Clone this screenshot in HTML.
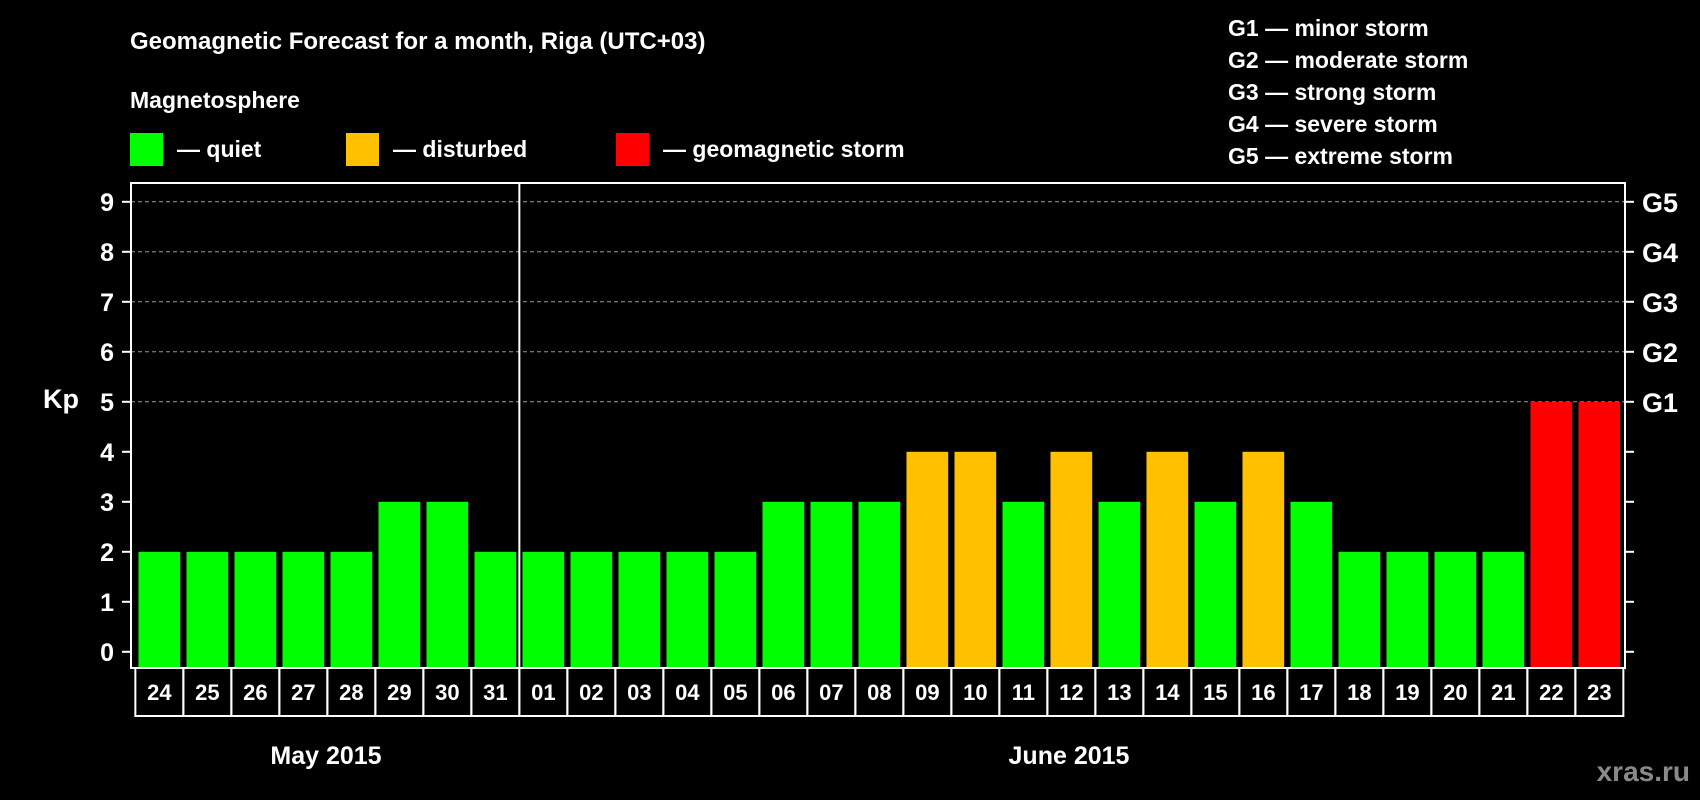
<!DOCTYPE html>
<html><head><meta charset="utf-8"><style>
html,body{margin:0;padding:0;background:#000;}
svg{display:block;font-family:"Liberation Sans",Arial,sans-serif;font-weight:bold;}
</style></head><body>
<svg id="chart" width="1700" height="800" viewBox="0 0 1700 800">
<rect x="0" y="0" width="1700" height="800" fill="#000"/>
<text x="130" y="49" fill="#fff" font-size="24">Geomagnetic Forecast for a month, Riga (UTC+03)</text>
<text x="130" y="108" fill="#fff" font-size="23">Magnetosphere</text>
<g>
<rect x="130" y="133" width="33" height="33" fill="#00ff00"/>
<text x="177" y="157" fill="#fff" font-size="23">— quiet</text></g>
<g>
<rect x="346" y="133" width="33" height="33" fill="#ffc000"/>
<text x="393" y="157" fill="#fff" font-size="23">— disturbed</text></g>
<g>
<rect x="616" y="133" width="33" height="33" fill="#ff0000"/>
<text x="663" y="157" fill="#fff" font-size="23">— geomagnetic storm</text></g>
<g fill="#fff" font-size="23">
<text x="1228" y="36">G1 — minor storm</text>
<text x="1228" y="68">G2 — moderate storm</text>
<text x="1228" y="100">G3 — strong storm</text>
<text x="1228" y="132">G4 — severe storm</text>
<text x="1228" y="164">G5 — extreme storm</text>
</g>
<text x="43" y="408" fill="#fff" font-size="27">Kp</text>
<g id="grid"></g><g id="bars"></g><g id="axes"></g>
<text x="326" y="764" fill="#fff" font-size="25" text-anchor="middle">May 2015</text>
<text x="1069" y="764" fill="#fff" font-size="25" text-anchor="middle">June 2015</text>
<text x="1690" y="781" fill="#8a8a8a" font-size="28" text-anchor="end">xras.ru</text>
</svg>
<script>
const days = ["24","25","26","27","28","29","30","31","01","02","03","04","05","06","07","08","09","10","11","12","13","14","15","16","17","18","19","20","21","22","23"];
const kpValues = [2,2,2,2,2,3,3,2,2,2,2,2,2,3,3,3,4,4,3,4,3,4,3,4,3,2,2,2,2,5,5];
const yTicks = [0,1,2,3,4,5,6,7,8,9];
const gLabels = ["G1","G2","G3","G4","G5"];
const NS="http://www.w3.org/2000/svg";
const plotL=131, plotR=1625, plotT=183, plotB=668;
const y0=651.8, unit=50;
const barX0=138.5, pitch=48, barW=41.7;
function yScale(v){return y0-v*unit;}
function xScale(i){return barX0+i*pitch;}
function mk(tag,attrs,parent){const e=document.createElementNS(NS,tag);for(const k in attrs)e.setAttribute(k,attrs[k]);parent.appendChild(e);return e;}
const grid=document.getElementById('grid'), bars=document.getElementById('bars'), axes=document.getElementById('axes');
yTicks.forEach(v=>{
  const y=yScale(v);
  if(v>=5){const g=mk('line',{x1:plotL,x2:plotR,y1:y,y2:y,stroke:'#999','stroke-width':1,'stroke-dasharray':'4,3'},grid);
  
  }
  const t=mk('line',{x1:plotL-9,x2:plotL,y1:y,y2:y,stroke:'#fff','stroke-width':2},axes);
  
  
  const rt=mk('line',{x1:plotR,x2:plotR+9,y1:y,y2:y,stroke:'#fff','stroke-width':2},axes);
  
  
  const l=mk('text',{x:114,y:y+9,fill:'#fff','font-size':25,'text-anchor':'end'},axes);
  l.textContent=v;
  
  
});
gLabels.forEach((g,i)=>{
  const t=mk('text',{x:1642,y:yScale(5+i)+10,fill:'#fff','font-size':27},axes);
  t.textContent=g;
  
  
});
kpValues.forEach((v,i)=>{
  const c=v>=5?'#ff0000':(v>=4?'#ffc000':'#00ff00');
  const r=mk('rect',{x:xScale(i),y:yScale(v),width:barW,height:plotB-yScale(v)-1,fill:c},bars);
  
  
  const cx=xScale(i)+barW/2;
  const cell=mk('rect',{x:cx-pitch/2,y:plotB,width:pitch,height:48,fill:'none',stroke:'#fff','stroke-width':2},axes);
  
  
  const t=mk('text',{x:cx,y:plotB+32,fill:'#fff','font-size':22,'text-anchor':'middle'},axes);
  t.textContent=days[i];
  
  
});
const frame=mk('rect',{x:plotL,y:plotT,width:plotR-plotL,height:plotB-plotT,fill:'none',stroke:'#fff','stroke-width':2},axes);


const divX=(xScale(7)+barW+xScale(8))/2;
const div=mk('line',{x1:divX,x2:divX,y1:plotT,y2:plotB,stroke:'#fff','stroke-width':2},axes);


</script>
</body></html>
